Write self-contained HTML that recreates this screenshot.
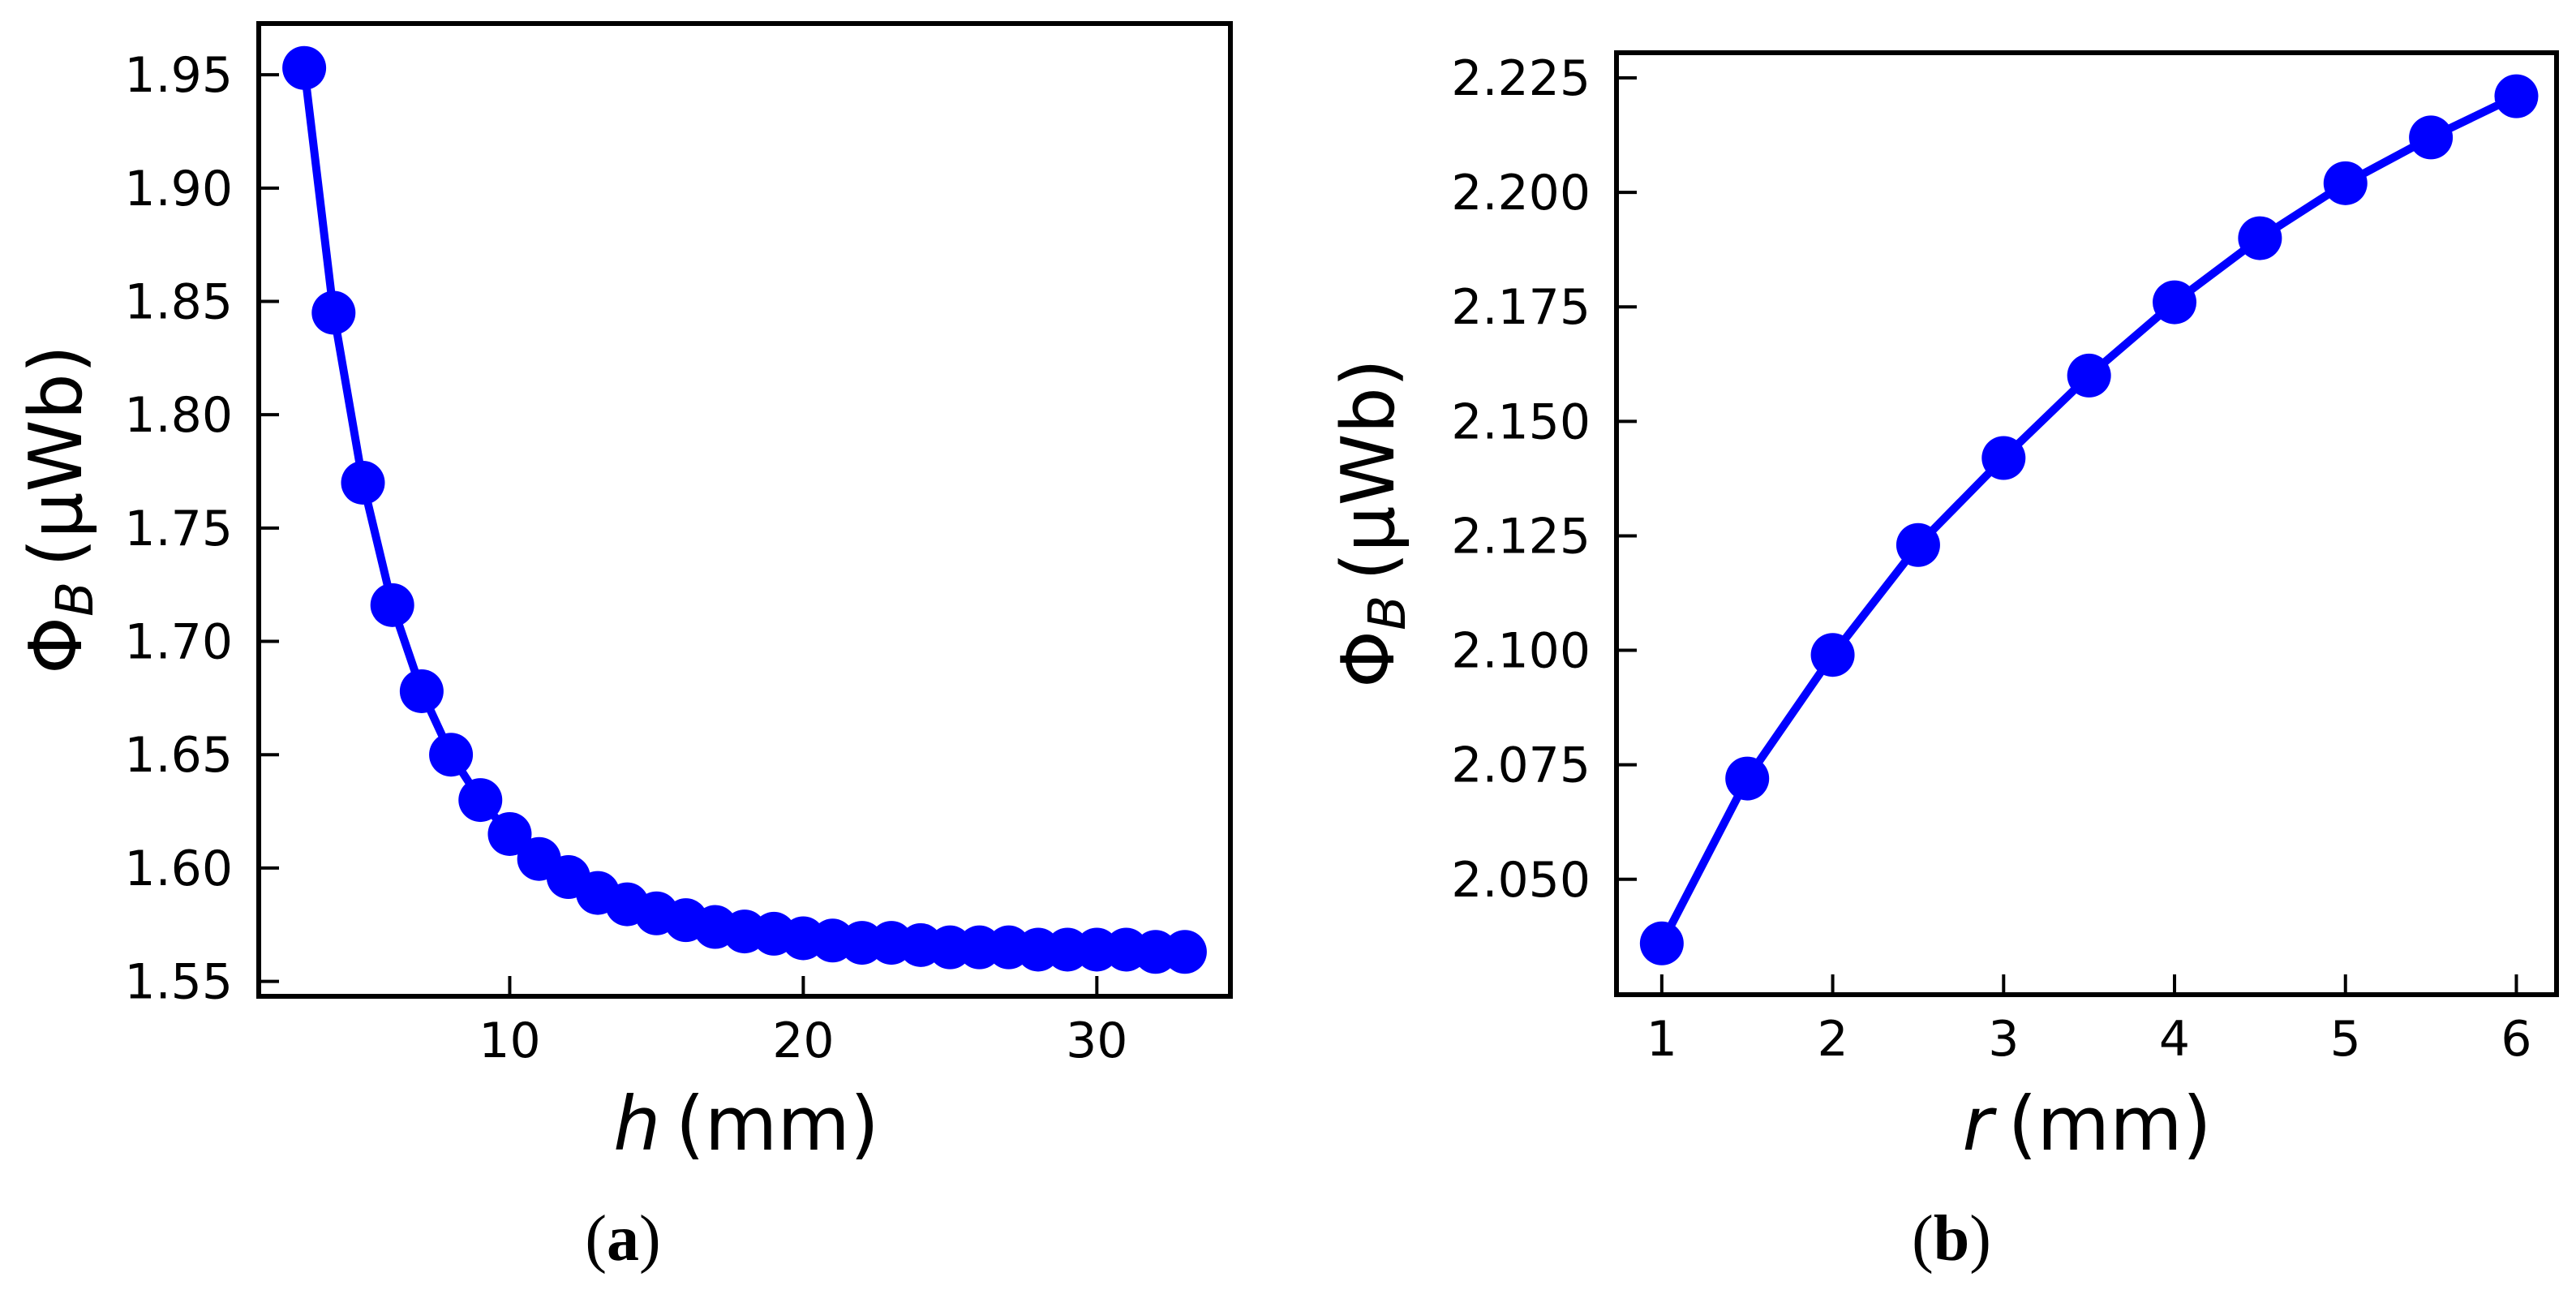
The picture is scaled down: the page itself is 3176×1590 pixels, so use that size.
<!DOCTYPE html>
<html><head><meta charset="utf-8"><style>
html,body{margin:0;padding:0;background:#fff;}
svg{display:block;font-family:"DejaVu Sans","Liberation Sans",sans-serif;}
</style></head><body>
<svg id="fig" width="3176" height="1590" viewBox="0 0 3176 1590" xmlns="http://www.w3.org/2000/svg"></svg>
<script>
const hValues = [3,4,5,6,7,8,9,10,11,12,13,14,15,16,17,18,19,20,21,22,23,24,25,26,27,28,29,30,31,32,33];
const fluxH = [1.953,1.845,1.770,1.716,1.678,1.650,1.630,1.615,1.604,1.596,1.589,1.584,1.580,1.577,1.574,1.572,1.571,1.569,1.568,1.567,1.567,1.566,1.565,1.565,1.565,1.564,1.564,1.564,1.564,1.563,1.563];
const hTicks = [10,20,30];
const fluxHTicks = [1.55,1.60,1.65,1.70,1.75,1.80,1.85,1.90,1.95];
const rValues = [1,1.5,2,2.5,3,3.5,4,4.5,5,5.5,6];
const fluxR = [2.036,2.072,2.099,2.123,2.142,2.160,2.176,2.190,2.202,2.212,2.221];
const rTicks = [1,2,3,4,5,6];
const fluxRTicks = [2.050,2.075,2.100,2.125,2.150,2.175,2.200,2.225];

const NS = "http://www.w3.org/2000/svg";
const svg = document.getElementById('fig');
function mk(tag, attrs, parent){
  const e = document.createElementNS(NS, tag);
  for (const k in attrs) e.setAttribute(k, attrs[k]);
  (parent||svg).appendChild(e);
  return e;
}
function panel(cfg){
  const g = mk('g', {});
  
  
  const {x0,x1,y0,y1,xmin,xmax,ymin,ymax} = cfg;
  const sx = v => x0 + (v - xmin) / (xmax - xmin) * (x1 - x0);
  const sy = v => y1 - (v - ymin) / (ymax - ymin) * (y1 - y0);
  cfg.yTicks.forEach(t => {
    const y = sy(t);
    const tk = mk('line', {x1:x0, x2:x0+25, y1:y, y2:y, stroke:'#000','stroke-width':4}, g);
    
    
    const tl = mk('text', {x:x0-32, y:y+21, 'text-anchor':'end','font-size':60, fill:'#000'}, g);
    tl.textContent = t.toFixed(cfg.yDec);
    
    
  });
  cfg.xTicks.forEach(t => {
    const x = sx(t);
    const tk = mk('line', {x1:x, x2:x, y1:y1, y2:y1-25, stroke:'#000','stroke-width':4}, g);
    
    
    const tl = mk('text', {x:x, y:y1+75, 'text-anchor':'middle','font-size':60, fill:'#000'}, g);
    tl.textContent = String(t);
    
    
  });
  const pts = cfg.xs.map((v,i)=> sx(v)+','+sy(cfg.ys[i])).join(' ');
  const pl = mk('polyline', {points:pts, fill:'none', stroke:'#0000ff','stroke-width':10,'stroke-linejoin':'round'}, g);
  
  
  cfg.xs.forEach((v,i)=>{
    const c = mk('circle', {cx:sx(v), cy:sy(cfg.ys[i]), r:27, fill:'#0000ff'}, g);
    
    
  });
  const fr = mk('rect', {x:x0, y:y0, width:x1-x0, height:y1-y0, fill:'none', stroke:'#000','stroke-width':6}, g);
  
  
  const xl = mk('text', {x:cfg.xlx, y:1417, 'text-anchor':'middle','font-size':92, fill:'#000'}, g);
  xl.innerHTML = '<tspan font-style="italic">'+cfg.xvar+'</tspan>\u2009(mm)';
  
  
  const yl = mk('text', {x:0, y:0, 'text-anchor':'middle','font-size':90, fill:'#000', transform:'translate('+cfg.ylx+','+cfg.yly+') rotate(-90)'}, g);
  yl.innerHTML = 'Φ<tspan font-style="italic" font-size="63" dy="14">B</tspan><tspan dy="-14">\u2009(μWb)</tspan>';
  
  
  const cap = mk('text', {x:cfg.capx, y:1553, 'text-anchor':'middle','font-size':80, fill:'#000','font-family':'"Liberation Serif",serif'}, g);
  cap.innerHTML = '(<tspan font-weight="bold">'+cfg.cap+'</tspan>)';
  
  
}
panel({name:'panel-a-flux-vs-h', x0:319, x1:1517, y0:29, y1:1228, xmin:1.45, xmax:34.55, ymin:1.5434, ymax:1.9726,
  xs:hValues, ys:fluxH, xTicks:hTicks, yTicks:fluxHTicks, yDec:2, xvar:'h', xlx:920, ylx:100, yly:628, capx:768, cap:'a'});
panel({name:'panel-b-flux-vs-r', x0:1993, x1:3152, y0:65, y1:1226, xmin:0.735, xmax:6.235, ymin:2.0248, ymax:2.2305,
  xs:rValues, ys:fluxR, xTicks:rTicks, yTicks:fluxRTicks, yDec:3, xvar:'r', xlx:2573, ylx:1718, yly:645, capx:2406, cap:'b'});
</script>
</body></html>
